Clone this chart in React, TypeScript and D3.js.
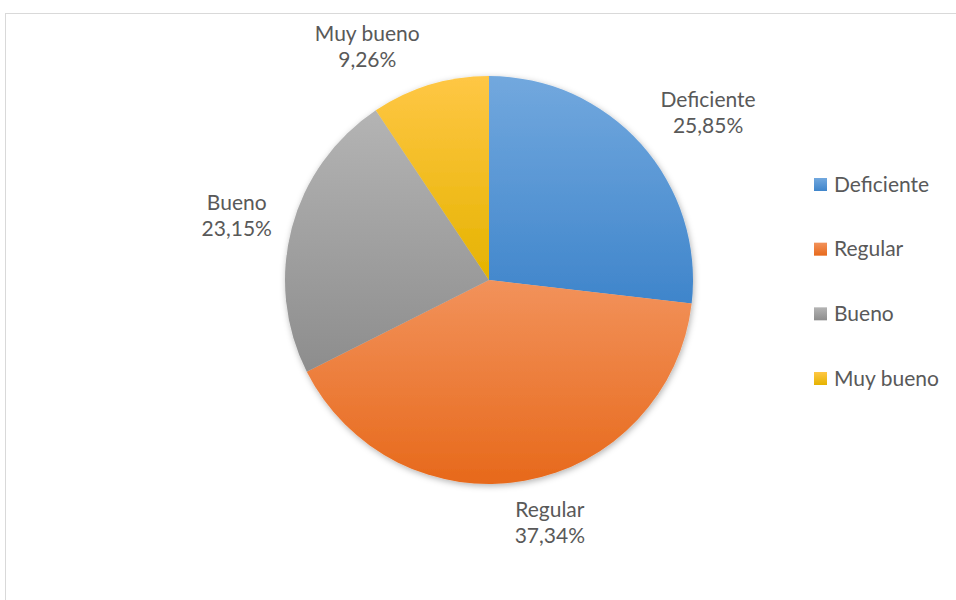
import React from "react";
import * as d3 from "d3";

const categories = ["Deficiente", "Regular", "Bueno", "Muy bueno"];
// slice sizes
const values = [26.83, 40.75, 23.06, 9.36];
// data label texts as printed in the chart
const valueLabels = ["25,85%", "37,34%", "23,15%", "9,26%"];

const colorsTop = ["#72a8de", "#f2925b", "#b4b4b4", "#ffc745"];
const colorsBottom = ["#3f85cb", "#e7691b", "#8d8d8d", "#e5b300"];

// label placement tweaks (Excel "best fit")
const labelNudge: [number, number][] = [
  [16.5, -5],
  [16, -4],
  [-9, -3.5],
  [-44.5, 1.5],
];

const W = 956;
const H = 600;
const CX = 489;
const CY = 280;
const R = 204;
const FONT = "Lato, 'Noto Sans', sans-serif";
const FS = 21;
const TEXT = "#595959";

export default function App() {
  const pie = d3
    .pie<number>()
    .sort(null)
    .value((d) => d);
  const arcs = pie(values);
  const arc = d3.arc<d3.PieArcDatum<number>>().innerRadius(0).outerRadius(R);

  const legendY = d3
    .scalePoint<string>()
    .domain(categories)
    .range([184, 378]);

  return (
    <svg
      width={W}
      height={H}
      style={{ position: "absolute", left: 0, top: 0, background: "#fff" }}
      fontFamily={FONT}
    >
      <defs>
        {categories.map((c, i) => (
          <linearGradient key={c} id={`g${i}`} x1="0" y1="0" x2="0" y2="1">
            <stop offset="0" stopColor={colorsTop[i]} />
            <stop offset="1" stopColor={colorsBottom[i]} />
          </linearGradient>
        ))}
        <filter id="shadow" x="-20%" y="-20%" width="140%" height="140%">
          <feDropShadow dx="1" dy="2" stdDeviation="3" floodColor="#000" floodOpacity="0.3" />
        </filter>
      </defs>
      <rect x={5.5} y={13.5} width={W + 10} height={H + 10} fill="#fff" stroke="#d9d9d9" strokeWidth={1} />

      <g transform={`translate(${CX},${CY})`}>
        <g filter="url(#shadow)">
          {arcs.map((a, i) => (
            <path key={categories[i]} d={arc(a) || ""} fill={`url(#g${i})`} />
          ))}
        </g>
        {arcs.map((a, i) => {
          const mid = (a.startAngle + a.endAngle) / 2;
          const ux = Math.sin(mid);
          const uy = -Math.cos(mid);
          const hw = (Math.max(categories[i].length, valueLabels[i].length) * FS * 0.47) / 2;
          const hh = 26;
          const g = 18;
          const x = (R + g) * ux + hw * ux + labelNudge[i][0];
          const y = (R + g) * uy + hh * uy + labelNudge[i][1];
          return (
            <text key={categories[i]} x={x} y={y} textAnchor="middle" fill={TEXT} fontSize={FS}>
              <tspan x={x} dy="-0.15em">{categories[i]}</tspan>
              <tspan x={x} dy="1.25em">{valueLabels[i]}</tspan>
            </text>
          );
        })}
      </g>

      <g>
        {categories.map((c, i) => {
          const y = legendY(c) as number;
          return (
            <g key={c}>
              <rect x={814} y={y - 6} width={13} height={13} fill={`url(#g${i})`} />
              <text x={834} y={y} dy="0.36em" fill={TEXT} fontSize={FS}>
                {c}
              </text>
            </g>
          );
        })}
      </g>
    </svg>
  );
}
